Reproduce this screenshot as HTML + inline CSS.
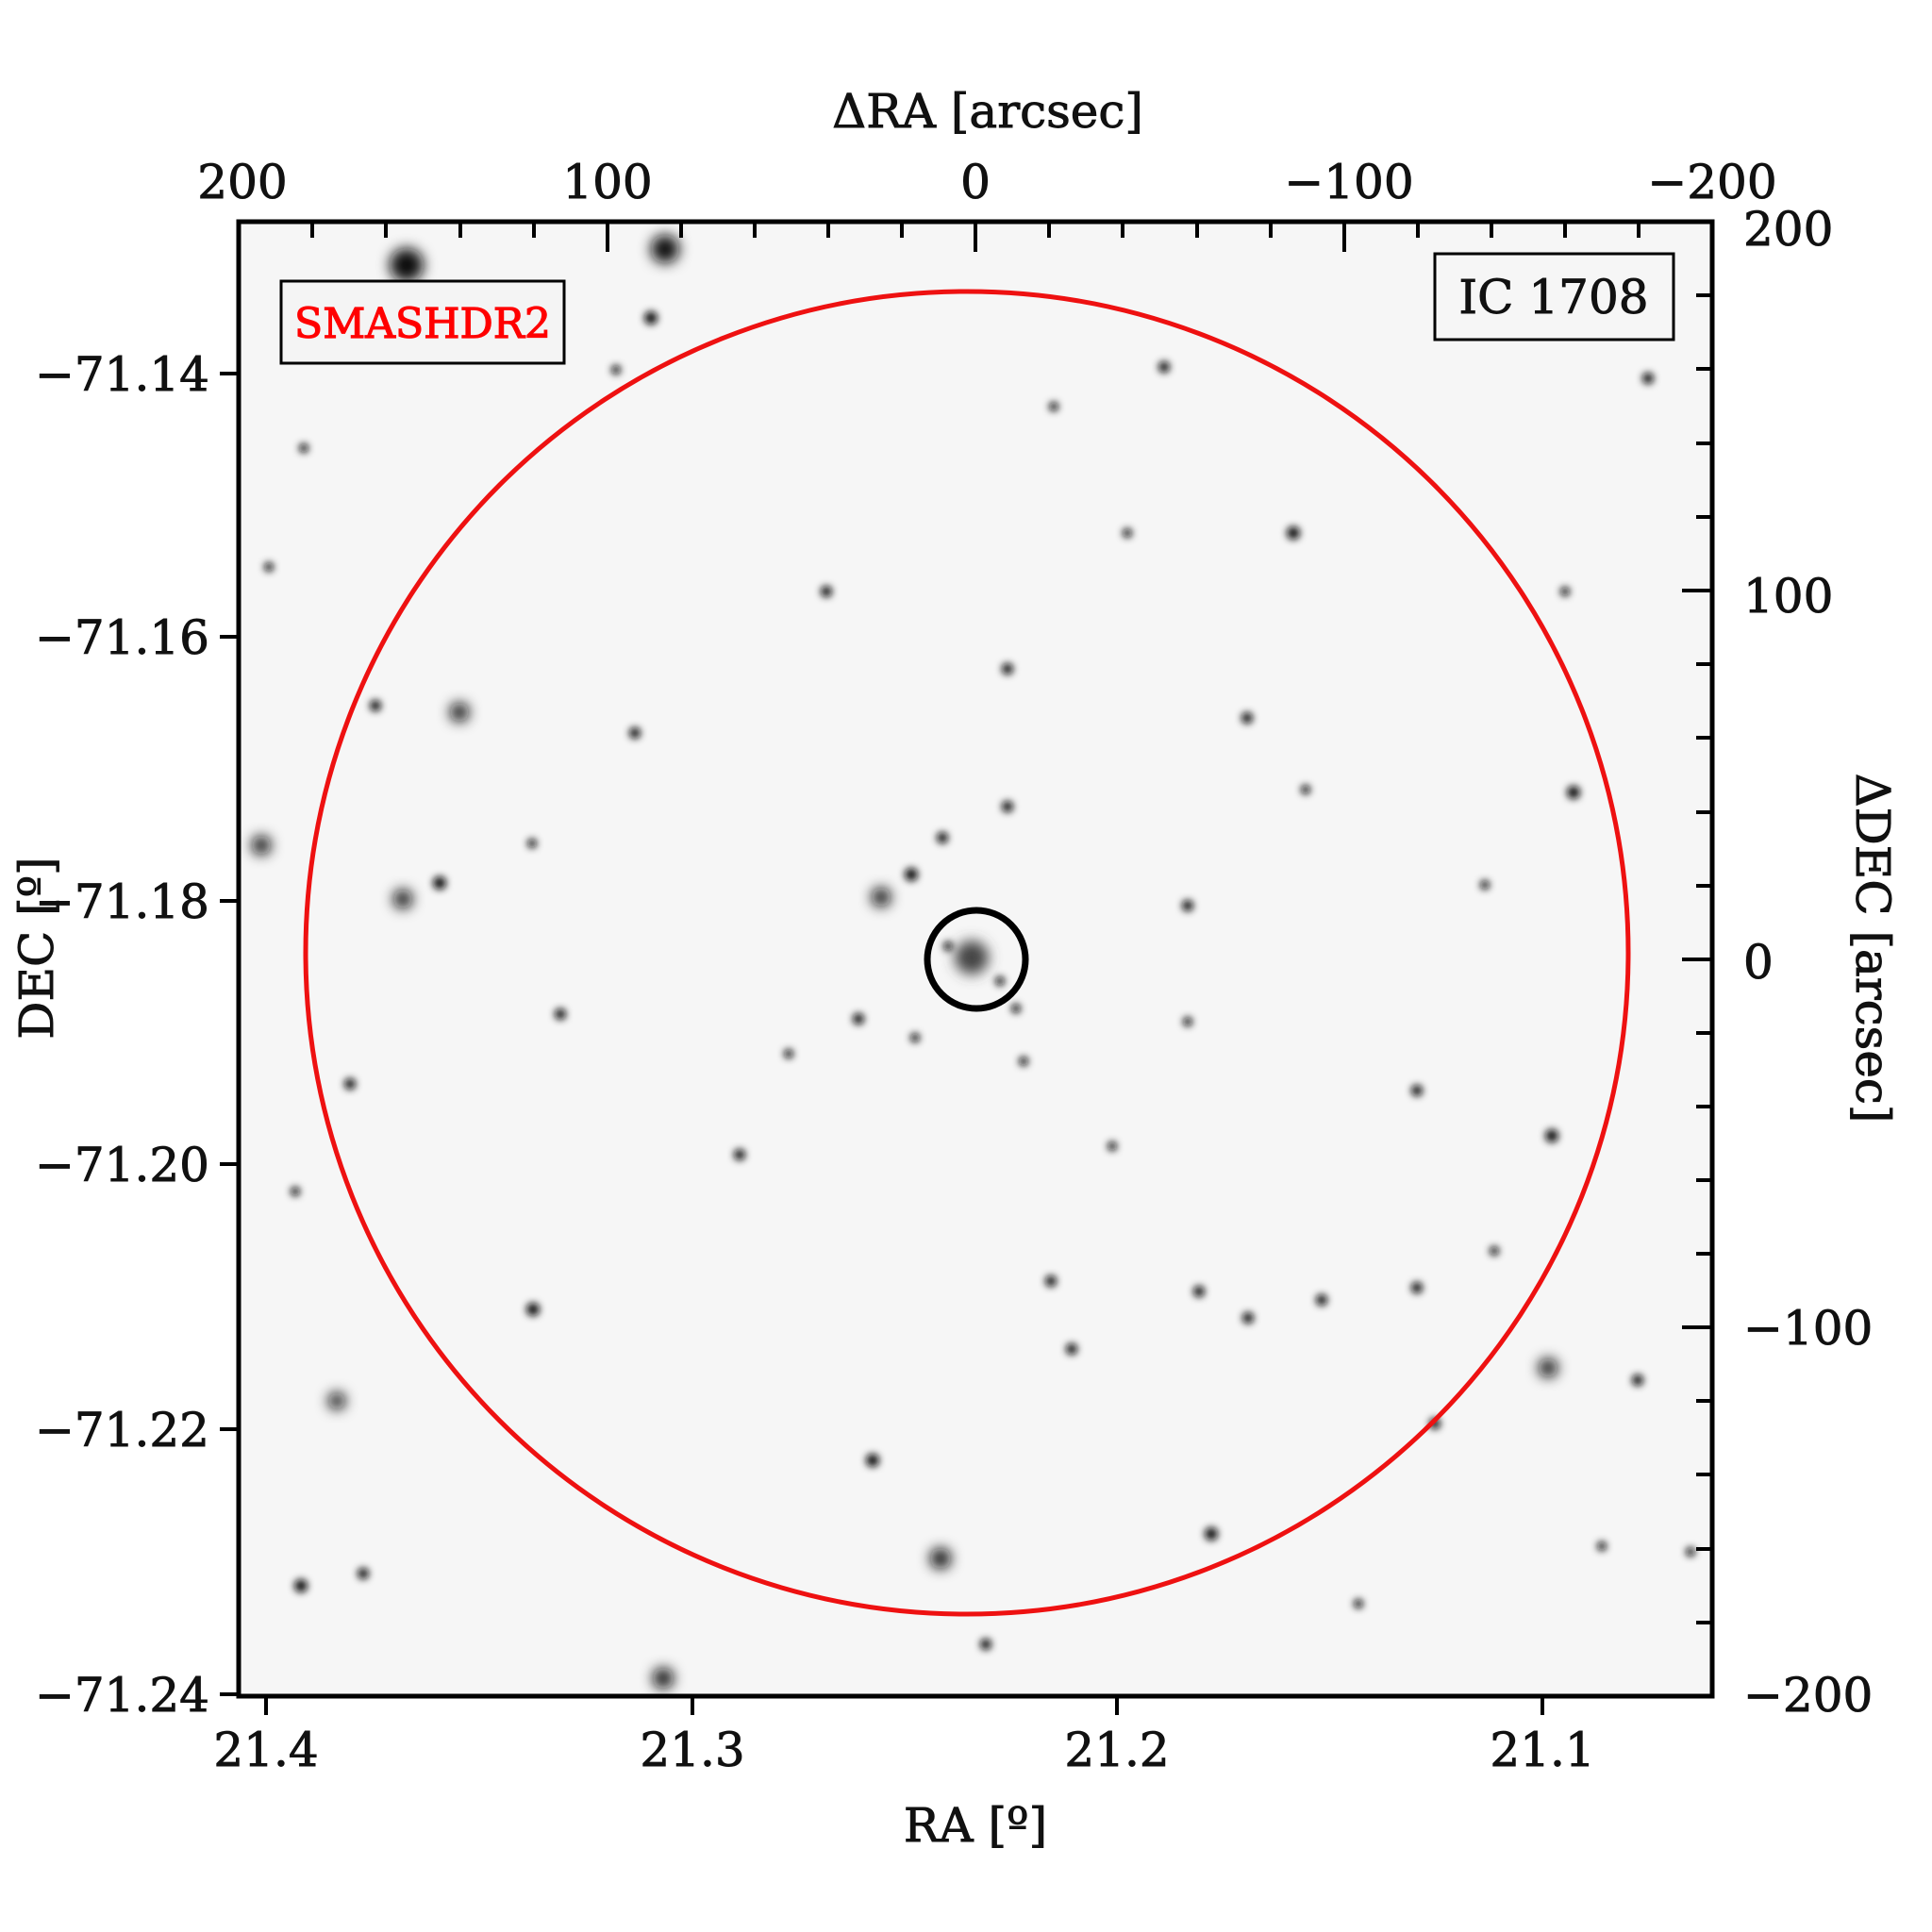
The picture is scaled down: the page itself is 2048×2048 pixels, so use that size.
<!DOCTYPE html>
<html><head><meta charset="utf-8"><style>
html,body{margin:0;padding:0;background:#fff;}
svg{display:block;}
text{font-family:"DejaVu Serif","Liberation Serif",serif;fill:#111;stroke:#111;stroke-width:0.9;}
</style></head><body>
<svg width="2048" height="2048" viewBox="0 0 2048 2048" xmlns="http://www.w3.org/2000/svg">
<defs>
<filter id="b" x="-2" y="-2" width="5" height="5"><feGaussianBlur stdDeviation="4"/></filter>
<filter id="b2" x="-2" y="-2" width="5" height="5"><feGaussianBlur stdDeviation="7"/></filter>
<clipPath id="c"><rect x="253" y="235" width="1562" height="1563"/></clipPath>
</defs>
<rect x="253" y="235" width="1562" height="1563" fill="#f6f6f6"/>
<g clip-path="url(#c)" fill="#111">
<g filter="url(#b2)">
<circle cx="431" cy="281" r="18"/><circle cx="705" cy="264" r="15"/>
<circle cx="1030" cy="1015" r="18" fill="#444"/>
<circle cx="487" cy="755" r="10"/><circle cx="997" cy="1652" r="11"/><circle cx="703" cy="1779" r="11"/>
<circle cx="1641" cy="1450" r="10"/><circle cx="277" cy="896" r="10"/><circle cx="427" cy="953" r="10"/>
<circle cx="934" cy="951" r="10"/><circle cx="357" cy="1485" r="9"/>
</g>
<g filter="url(#b)">
<circle cx="690" cy="337" r="7"/><circle cx="466" cy="936" r="7"/><circle cx="966" cy="927" r="7"/>
<circle cx="999" cy="888" r="6"/><circle cx="1371" cy="565" r="7"/><circle cx="1668" cy="840" r="7"/>
<circle cx="1645" cy="1204" r="7"/><circle cx="565" cy="1388" r="7"/><circle cx="925" cy="1548" r="7"/>
<circle cx="1284" cy="1626" r="7"/><circle cx="1259" cy="960" r="6"/><circle cx="673" cy="777" r="6"/>
<circle cx="398" cy="748" r="6"/><circle cx="1234" cy="389" r="6"/><circle cx="1068" cy="709" r="6"/>
<circle cx="1322" cy="761" r="6"/><circle cx="784" cy="1224" r="6"/><circle cx="594" cy="1075" r="6"/>
<circle cx="910" cy="1080" r="6"/><circle cx="371" cy="1149" r="6"/><circle cx="319" cy="1681" r="7"/>
<circle cx="385" cy="1668" r="6"/><circle cx="1736" cy="1463" r="6"/><circle cx="1747" cy="401" r="6"/>
<circle cx="1659" cy="627" r="5"/><circle cx="1114" cy="1358" r="6"/><circle cx="1271" cy="1369" r="6"/>
<circle cx="1401" cy="1378" r="6"/><circle cx="1502" cy="1365" r="6"/><circle cx="1584" cy="1326" r="5"/>
<circle cx="1136" cy="1430" r="6"/><circle cx="1323" cy="1397" r="6"/><circle cx="1521" cy="1509" r="6"/>
<circle cx="1698" cy="1639" r="5"/><circle cx="1502" cy="1156" r="6"/><circle cx="1574" cy="938" r="5"/>
<circle cx="876" cy="627" r="6"/><circle cx="1068" cy="855" r="6"/><circle cx="1195" cy="565" r="5"/>
<circle cx="1384" cy="837" r="5"/><circle cx="1179" cy="1215" r="5"/><circle cx="564" cy="894" r="5"/>
<circle cx="313" cy="1263" r="5"/><circle cx="1045" cy="1743" r="6"/><circle cx="1792" cy="1645" r="5"/>
<circle cx="836" cy="1117" r="5"/><circle cx="285" cy="601" r="5"/><circle cx="653" cy="392" r="5"/>
<circle cx="1117" cy="431" r="5"/><circle cx="1259" cy="1083" r="5"/><circle cx="1077" cy="1069" r="5"/>
<circle cx="1005" cy="1003" r="5"/><circle cx="1060" cy="1040" r="5"/><circle cx="322" cy="475" r="5"/>
<circle cx="1440" cy="1700" r="5"/><circle cx="970" cy="1100" r="5"/><circle cx="1085" cy="1125" r="5"/>
</g>
</g>
<rect x="253" y="235" width="1562" height="1563" fill="none" stroke="#000" stroke-width="5"/>
<g stroke="#000" stroke-width="4">
<path d="M644 235v32M1034 235v32M1425 235v32"/>
<path d="M331 235v17M409 235v17M488 235v17M566 235v17M722 235v17M800 235v17M878 235v17M956 235v17M1112 235v17M1190 235v17M1269 235v17M1347 235v17M1503 235v17M1581 235v17M1659 235v17M1737 235v17"/>
<path d="M1815 626h-32M1815 1017h-32M1815 1407h-32"/>
<path d="M1815 313h-17M1815 391h-17M1815 470h-17M1815 548h-17M1815 704h-17M1815 782h-17M1815 861h-17M1815 939h-17M1815 1095h-17M1815 1173h-17M1815 1251h-17M1815 1329h-17M1815 1485h-17M1815 1563h-17M1815 1642h-17M1815 1720h-17"/>
<path d="M253 396h-20M253 675h-20M253 955h-20M253 1234h-20M253 1515h-20M253 1796h-20"/>
<path d="M282 1798v20M734 1798v20M1184 1798v20M1635 1798v20"/>
</g>
<circle cx="1025" cy="1010" r="701" fill="none" stroke="#ee1111" stroke-width="5"/>
<circle cx="1035" cy="1017" r="52" fill="none" stroke="#000" stroke-width="7"/>
<rect x="298" y="298" width="300" height="87" fill="#f4f4f4" stroke="#000" stroke-width="3"/>
<text x="448" y="358" font-size="44" text-anchor="middle" style="fill:#f00;stroke:#f00;stroke-width:1.2">SMASHDR2</text>
<rect x="1521" y="269" width="253" height="91" fill="#f6f6f6" stroke="#000" stroke-width="3"/>
<text x="1647" y="332" font-size="50" text-anchor="middle">IC 1708</text>
<g font-size="50" text-anchor="middle">
<text x="257" y="210">200</text><text x="644" y="210">100</text><text x="1034" y="210">0</text>
<text x="1430" y="210">−100</text><text x="1815" y="210">−200</text>
<text x="282" y="1872">21.4</text><text x="734" y="1872">21.3</text><text x="1184" y="1872">21.2</text><text x="1635" y="1872">21.1</text>
<text x="1047" y="135">ΔRA [arcsec]</text>
<text x="1034" y="1952">RA [º]</text>
</g>
<g font-size="50" text-anchor="end">
<text x="222" y="414">−71.14</text><text x="222" y="693">−71.16</text><text x="222" y="973">−71.18</text>
<text x="222" y="1252">−71.20</text><text x="222" y="1533">−71.22</text><text x="222" y="1814">−71.24</text>
</g>
<g font-size="50" text-anchor="start">
<text x="1848" y="260">200</text><text x="1848" y="649">100</text><text x="1848" y="1037">0</text>
<text x="1848" y="1425">−100</text><text x="1848" y="1814">−200</text>
</g>
<text font-size="50" text-anchor="middle" transform="translate(56,1005) rotate(-90)">DEC [º]</text>
<text font-size="50" text-anchor="middle" transform="translate(1968,1005) rotate(90)">ΔDEC [arcsec]</text>
</svg>
</body></html>
